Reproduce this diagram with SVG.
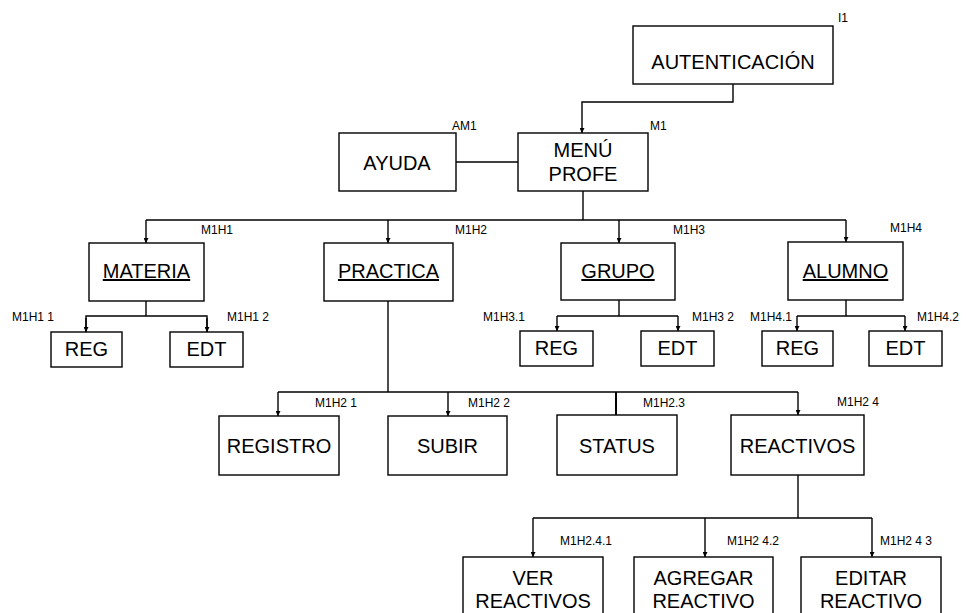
<svg xmlns="http://www.w3.org/2000/svg" width="966" height="613" viewBox="0 0 966 613">
  <style>
    .box { fill: #ffffff; stroke: #000000; stroke-width: 1.4; }
    .lbl { font-family: "Liberation Sans", Arial, sans-serif; font-size: 20px; fill: #000000; text-anchor: middle; }
    .ul { text-decoration: underline; }
    .tag { font-family: "Liberation Sans", Arial, sans-serif; font-size: 12px; fill: #000000; }
    .wire { fill: none; stroke: #000000; stroke-width: 1.4; }
  </style>
  <defs>
    <marker id="arrow" viewBox="0 0 10 10" refX="10" refY="5" markerWidth="5" markerHeight="5" orient="auto" markerUnits="userSpaceOnUse">
      <path d="M0,0 L10,5 L0,10 Z" fill="#000000"/>
    </marker>
  </defs>
  <rect width="966" height="613" fill="#ffffff"/>

  <!-- connectors -->
  <g id="connectors">
    <path class="wire" d="M733,84 V102 H582 V133" marker-end="url(#arrow)"/>
    <path class="wire" d="M456,162 H518"/>
    <path class="wire" d="M583,191 V220"/>
    <path class="wire" d="M146,220 H846"/>
    <path class="wire" d="M146,220 V243" marker-end="url(#arrow)"/>
    <path class="wire" d="M388,220 V243" marker-end="url(#arrow)"/>
    <path class="wire" d="M619,220 V243" marker-end="url(#arrow)"/>
    <path class="wire" d="M846,220 V242" marker-end="url(#arrow)"/>

    <!-- MATERIA children -->
    <path class="wire" d="M146,301 V316"/>
    <path class="wire" d="M86,332 V316 H207 V332"/>
    <path class="wire" d="M86,318 V332" marker-end="url(#arrow)"/>
    <path class="wire" d="M207,318 V332" marker-end="url(#arrow)"/>

    <!-- GRUPO children -->
    <path class="wire" d="M619,300 V316"/>
    <path class="wire" d="M557,316 H678"/>
    <path class="wire" d="M557,316 V331" marker-end="url(#arrow)"/>
    <path class="wire" d="M678,316 V331" marker-end="url(#arrow)"/>

    <!-- ALUMNO children -->
    <path class="wire" d="M846,300 V316"/>
    <path class="wire" d="M797,316 H905"/>
    <path class="wire" d="M797,316 V331" marker-end="url(#arrow)"/>
    <path class="wire" d="M905,316 V331" marker-end="url(#arrow)"/>

    <!-- PRACTICA children -->
    <path class="wire" d="M388,301 V392"/>
    <path class="wire" d="M278,392 H798"/>
    <path class="wire" d="M278,392 V416" marker-end="url(#arrow)"/>
    <path class="wire" d="M448,392 V416" marker-end="url(#arrow)"/>
    <path class="wire" d="M616,392 V415" style="stroke-width:2"/>
    <path class="wire" d="M798,392 V415" marker-end="url(#arrow)"/>

    <!-- REACTIVOS children -->
    <path class="wire" d="M798,475 V518"/>
    <path class="wire" d="M533,518 H872"/>
    <path class="wire" d="M533,518 V557" marker-end="url(#arrow)"/>
    <path class="wire" d="M705,518 V557" marker-end="url(#arrow)"/>
    <path class="wire" d="M872,518 V557" marker-end="url(#arrow)"/>
  </g>

  <g id="autenticacion">
    <rect class="box" x="633" y="26" width="200" height="58"/>
    <text class="lbl" x="733" y="69">AUTENTICACIÓN</text>
    <text class="tag" x="838" y="22">I1</text>
  </g>

  <g id="ayuda">
    <rect class="box" x="339" y="133" width="117" height="58"/>
    <text class="lbl" x="397" y="170">AYUDA</text>
    <text class="tag" x="452" y="130">AM1</text>
  </g>

  <g id="menu-profe">
    <rect class="box" x="518" y="133" width="130" height="58"/>
    <text class="lbl" x="583" y="157">MENÚ</text>
    <text class="lbl" x="583" y="181">PROFE</text>
    <text class="tag" x="650" y="130">M1</text>
  </g>

  <g id="materia">
    <rect class="box" x="89" y="243" width="115" height="58"/>
    <text class="lbl ul" x="146.5" y="278">MATERIA</text>
    <text class="tag" x="201" y="234">M1H1</text>
  </g>

  <g id="practica">
    <rect class="box" x="324" y="243" width="129" height="58"/>
    <text class="lbl ul" x="388.5" y="278">PRACTICA</text>
    <text class="tag" x="455" y="234">M1H2</text>
  </g>

  <g id="grupo">
    <rect class="box" x="561" y="243" width="114" height="57"/>
    <text class="lbl ul" x="618" y="278">GRUPO</text>
    <text class="tag" x="673" y="234">M1H3</text>
  </g>

  <g id="alumno">
    <rect class="box" x="788" y="242" width="115" height="58"/>
    <text class="lbl ul" x="845.5" y="278">ALUMNO</text>
    <text class="tag" x="890" y="232">M1H4</text>
  </g>

  <g id="materia-reg">
    <rect class="box" x="51" y="332" width="71" height="35"/>
    <text class="lbl" x="86.5" y="356">REG</text>
    <text class="tag" x="12" y="321">M1H1 1</text>
  </g>

  <g id="materia-edt">
    <rect class="box" x="170" y="332" width="73" height="35"/>
    <text class="lbl" x="206.5" y="356">EDT</text>
    <text class="tag" x="227" y="321">M1H1 2</text>
  </g>

  <g id="grupo-reg">
    <rect class="box" x="520" y="331" width="73" height="35"/>
    <text class="lbl" x="556.5" y="355">REG</text>
    <text class="tag" x="483" y="321">M1H3.1</text>
  </g>

  <g id="grupo-edt">
    <rect class="box" x="641" y="331" width="73" height="35"/>
    <text class="lbl" x="677.5" y="355">EDT</text>
    <text class="tag" x="692" y="321">M1H3 2</text>
  </g>

  <g id="alumno-reg">
    <rect class="box" x="762" y="331" width="71" height="35"/>
    <text class="lbl" x="797.5" y="355">REG</text>
    <text class="tag" x="750" y="321">M1H4.1</text>
  </g>

  <g id="alumno-edt">
    <rect class="box" x="869" y="331" width="73" height="35"/>
    <text class="lbl" x="905.5" y="355">EDT</text>
    <text class="tag" x="917" y="321">M1H4.2</text>
  </g>

  <g id="registro">
    <rect class="box" x="219" y="416" width="120" height="59"/>
    <text class="lbl" x="279" y="453">REGISTRO</text>
    <text class="tag" x="315" y="407">M1H2 1</text>
  </g>

  <g id="subir">
    <rect class="box" x="388" y="416" width="119" height="59"/>
    <text class="lbl" x="447.5" y="453">SUBIR</text>
    <text class="tag" x="468" y="407">M1H2 2</text>
  </g>

  <g id="status">
    <rect class="box" x="557" y="415" width="120" height="60"/>
    <text class="lbl" x="617" y="453">STATUS</text>
    <text class="tag" x="643" y="407">M1H2.3</text>
  </g>

  <g id="reactivos">
    <rect class="box" x="731" y="415" width="133" height="60"/>
    <text class="lbl" x="797.5" y="453">REACTIVOS</text>
    <text class="tag" x="837" y="406">M1H2 4</text>
  </g>

  <g id="ver-reactivos">
    <rect class="box" x="463" y="557" width="140" height="70"/>
    <text class="lbl" x="533" y="585">VER</text>
    <text class="lbl" x="533" y="608">REACTIVOS</text>
    <text class="tag" x="560" y="545">M1H2.4.1</text>
  </g>

  <g id="agregar-reactivo">
    <rect class="box" x="634" y="557" width="139" height="70"/>
    <text class="lbl" x="703.5" y="585">AGREGAR</text>
    <text class="lbl" x="703.5" y="608">REACTIVO</text>
    <text class="tag" x="727" y="545">M1H2 4.2</text>
  </g>

  <g id="editar-reactivo">
    <rect class="box" x="801" y="557" width="140" height="70"/>
    <text class="lbl" x="871" y="585">EDITAR</text>
    <text class="lbl" x="871" y="608">REACTIVO</text>
    <text class="tag" x="880" y="545">M1H2 4 3</text>
  </g>
</svg>
